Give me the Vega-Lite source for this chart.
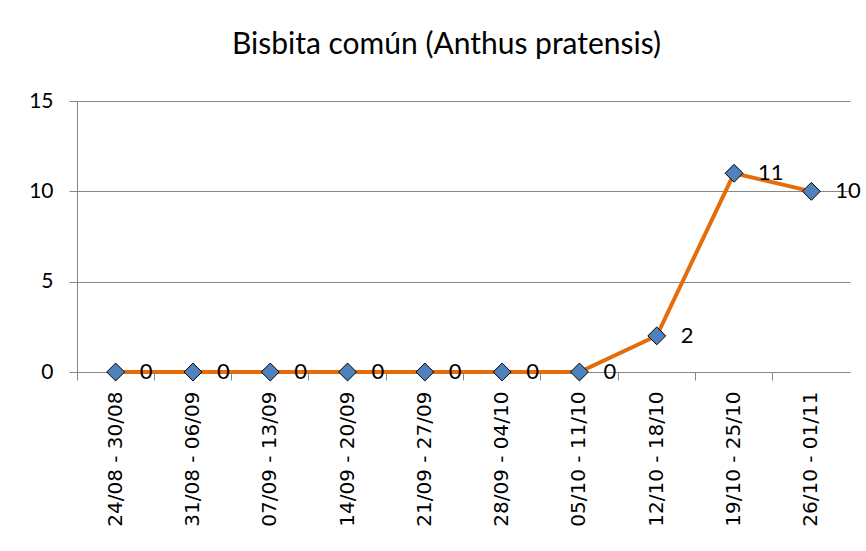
{
  "$schema": "https://vega.github.io/schema/vega-lite/v6.json",
  "autosize": {"type": "none"},
  "width": 773,
  "height": 271,
  "padding": {"left": 77, "top": 101, "right": 16, "bottom": 179},
  "background": "white",
  "title": {
    "text": "Bisbita común (Anthus pratensis)",
    "font": "Lato",
    "fontSize": 30,
    "fontWeight": "normal",
    "color": "#000000",
    "anchor": "middle",
    "frame": "group",
    "dx": -17,
    "offset": 30
  },
  "data": {
    "values": [
      {"week": "24/08 - 30/08", "count": 0},
      {"week": "31/08 - 06/09", "count": 0},
      {"week": "07/09 - 13/09", "count": 0},
      {"week": "14/09 - 20/09", "count": 0},
      {"week": "21/09 - 27/09", "count": 0},
      {"week": "28/09 - 04/10", "count": 0},
      {"week": "05/10 - 11/10", "count": 0},
      {"week": "12/10 - 18/10", "count": 2},
      {"week": "19/10 - 25/10", "count": 11},
      {"week": "26/10 - 01/11", "count": 10}
    ]
  },
  "encoding": {
    "x": {
      "field": "week",
      "type": "nominal",
      "sort": null,
      "scale": {"type": "band", "paddingInner": 0, "paddingOuter": 0},
      "axis": {
        "title": null,
        "labelAngle": -90,
        "labelFont": "DejaVu Sans",
        "labelFontSize": 20,
        "labelColor": "#000000",
        "labelPadding": 11,
        "bandPosition": 0,
        "tickSize": 8,
        "tickColor": "#868686",
        "domainColor": "#868686",
        "grid": false,
        "labelBound": false,
        "labelOverlap": false
      }
    },
    "y": {
      "field": "count",
      "type": "quantitative",
      "scale": {"domain": [0, 15], "nice": false},
      "axis": {
        "title": null,
        "values": [0, 5, 10, 15],
        "labelFont": "Lato",
        "labelFontSize": 21,
        "labelColor": "#000000",
        "labelPadding": 16,
        "tickSize": 8,
        "tickColor": "#868686",
        "domainColor": "#868686",
        "gridColor": "#868686",
        "grid": true
      }
    }
  },
  "layer": [
    {"mark": {"type": "line", "color": "#E46C0A", "strokeWidth": 4}},
    {"mark": {"type": "point", "shape": "diamond", "filled": true, "fill": "#4F81BD", "stroke": "#000000", "strokeWidth": 1, "size": 320, "opacity": 1}},
    {"mark": {"type": "text", "align": "left", "baseline": "middle", "dx": 24, "font": "Lato", "fontSize": 22, "color": "#000000"}, "encoding": {"text": {"field": "count", "type": "quantitative"}}}
  ],
  "config": {"view": {"stroke": null}}
}
